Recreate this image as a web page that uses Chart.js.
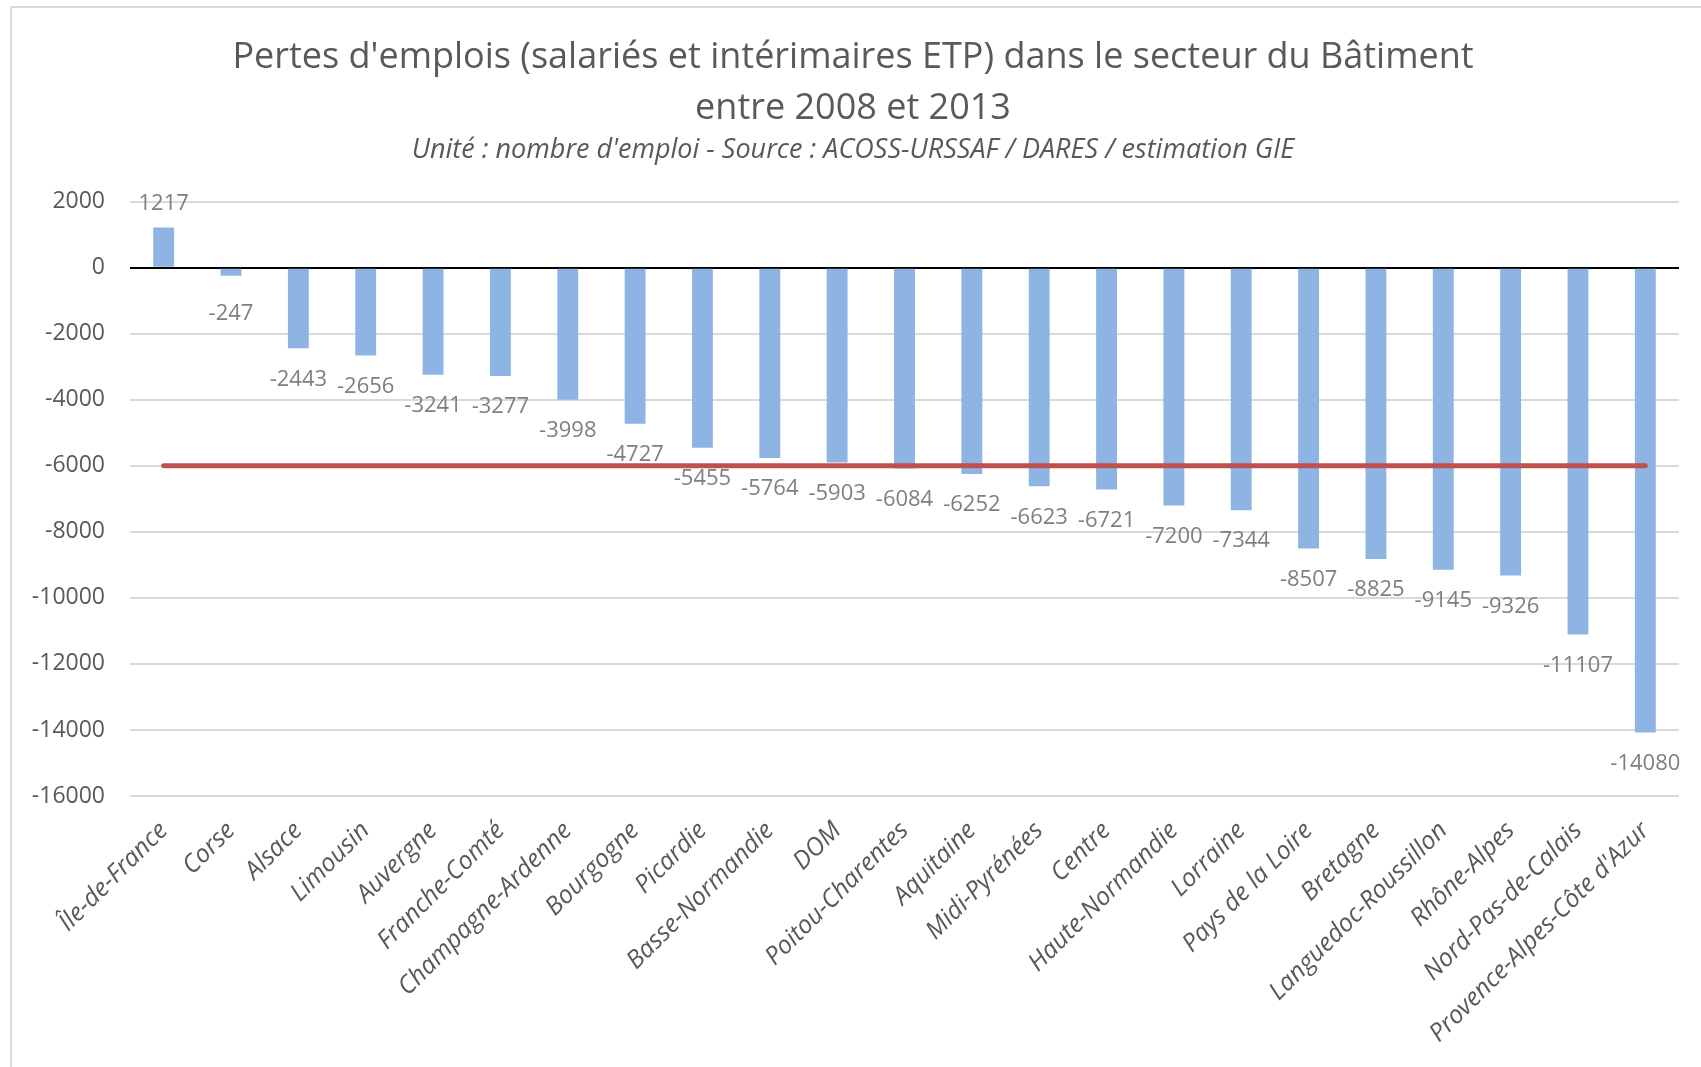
<!DOCTYPE html>
<html lang="fr">
<head>
<meta charset="utf-8">
<title>Pertes d'emplois dans le secteur du Bâtiment</title>
<script src="https://cdn.jsdelivr.net/npm/chart.js@4"></script>
<style>
    body { margin: 0; background: #ffffff; }
    #wrap { position: relative; width: 1701px; height: 1067px; }
</style>
</head>
<body>
<div id="wrap"><canvas id="bar_chart"></canvas></div>
<script>
// Régions, de la plus favorable à la plus touchée
var regions = ["Île-de-France", "Corse", "Alsace", "Limousin", "Auvergne", "Franche-Comté",
    "Champagne-Ardenne", "Bourgogne", "Picardie", "Basse-Normandie", "DOM", "Poitou-Charentes",
    "Aquitaine", "Midi-Pyrénées", "Centre", "Haute-Normandie", "Lorraine", "Pays de la Loire",
    "Bretagne", "Languedoc-Roussillon", "Rhône-Alpes", "Nord-Pas-de-Calais",
    "Provence-Alpes-Côte d'Azur"];

// Variation d'emplois 2008-2013 (ETP)
var pertes = [1217, -247, -2443, -2656, -3241, -3277, -3998, -4727, -5455, -5764, -5903, -6084,
    -6252, -6623, -6721, -7200, -7344, -8507, -8825, -9145, -9326, -11107, -14080];

// Ligne rouge (moyenne)
var moyenne = [-6000, -6000, -6000, -6000, -6000, -6000, -6000, -6000, -6000, -6000, -6000, -6000,
    -6000, -6000, -6000, -6000, -6000, -6000, -6000, -6000, -6000, -6000, -6000];

var yMin = -16000;
var yMax = 2000;
var yStep = 2000;

var titre = ["Pertes d'emplois (salariés et intérimaires ETP) dans le secteur du Bâtiment", "entre 2008 et 2013"];
var sousTitre = "Unité : nombre d'emploi - Source : ACOSS-URSSAF / DARES / estimation GIE";

// cadre gris autour du graphique
var cadre = {
    id: 'cadre',
    beforeDraw: function (chart) {
        var ctx = chart.ctx;
        ctx.save();
        ctx.strokeStyle = '#d9d9d9';
        ctx.lineWidth = 2;
        ctx.strokeRect(11, 7, 3000, 3000);
        ctx.restore();
    }
};

// étiquettes de valeurs sous / sur les barres
var etiquettes = {
    id: 'etiquettes',
    afterDatasetsDraw: function (chart) {
        var ctx = chart.ctx;
        var meta = chart.getDatasetMeta(1);
        var zero = chart.scales.y.getPixelForValue(0);
        ctx.save();
        ctx.font = '22px "Open Sans"';
        ctx.fillStyle = '#7f7f7f';
        ctx.textAlign = 'center';
        ctx.textBaseline = 'middle';
        meta.data.forEach(function (bar, i) {
            var v = pertes[i];
            // on garde l'étiquette à l'écart de l'axe pour les petites barres
            var y = v < 0 ? Math.max(bar.y, zero + 15) + 31 : Math.min(bar.y, zero - 15) - 24;
            ctx.fillText(String(v), bar.x, y);
        });
        ctx.restore();
    }
};

new Chart(document.getElementById("bar_chart").getContext("2d"), {
    data: {
        labels: regions,
        datasets: [{
            type: 'line',
            label: 'Moyenne',
            data: moyenne,
            borderColor: '#c0504d',
            borderWidth: 5,
            borderCapStyle: 'round',
            pointRadius: 0,
            order: 0
        }, {
            type: 'bar',
            label: 'Pertes',
            data: pertes,
            backgroundColor: '#8eb4e3',
            categoryPercentage: 1,
            barPercentage: 0.31,
            order: 1
        }]
    },
    options: {
        responsive: true,
        maintainAspectRatio: false,
        animation: false,
        layout: { padding: { top: 0, right: 22, bottom: 0, left: 27 } },
        plugins: {
            legend: { display: false },
            tooltip: { enabled: false },
            title: {
                display: true,
                text: titre,
                color: '#595959',
                font: { family: '"Open Sans"', size: 36, weight: 'normal', lineHeight: 1.42 },
                padding: { top: 32, bottom: 0 }
            },
            subtitle: {
                display: true,
                text: sousTitre,
                color: '#595959',
                font: { family: '"Open Sans"', size: 27, style: 'italic', lineHeight: 1.2 },
                padding: { top: 0, bottom: 35 }
            }
        },
        scales: {
            x: {
                grid: { display: false },
                border: { display: false },
                ticks: {
                    color: '#595959',
                    font: { family: '"Open Sans"', size: 25, style: 'italic' },
                    minRotation: 45,
                    maxRotation: 45,
                    autoSkip: false,
                    padding: 12
                },
                afterFit: function (scale) { scale.height = 271; }
            },
            y: {
                min: yMin,
                max: yMax,
                grid: {
                    drawTicks: false,
                    color: function (c) { return c.tick.value === 0 ? '#000000' : '#d9d9d9'; },
                    lineWidth: 2
                },
                border: { display: false },
                ticks: {
                    stepSize: yStep,
                    color: '#595959',
                    font: { family: '"Open Sans"', size: 23 },
                    padding: 25,
                    callback: function (v) { return String(v); }
                },
                afterFit: function (scale) { scale.width = 103; }
            }
        }
    },
    plugins: [cadre, etiquettes]
});
</script>
</body>
</html>
